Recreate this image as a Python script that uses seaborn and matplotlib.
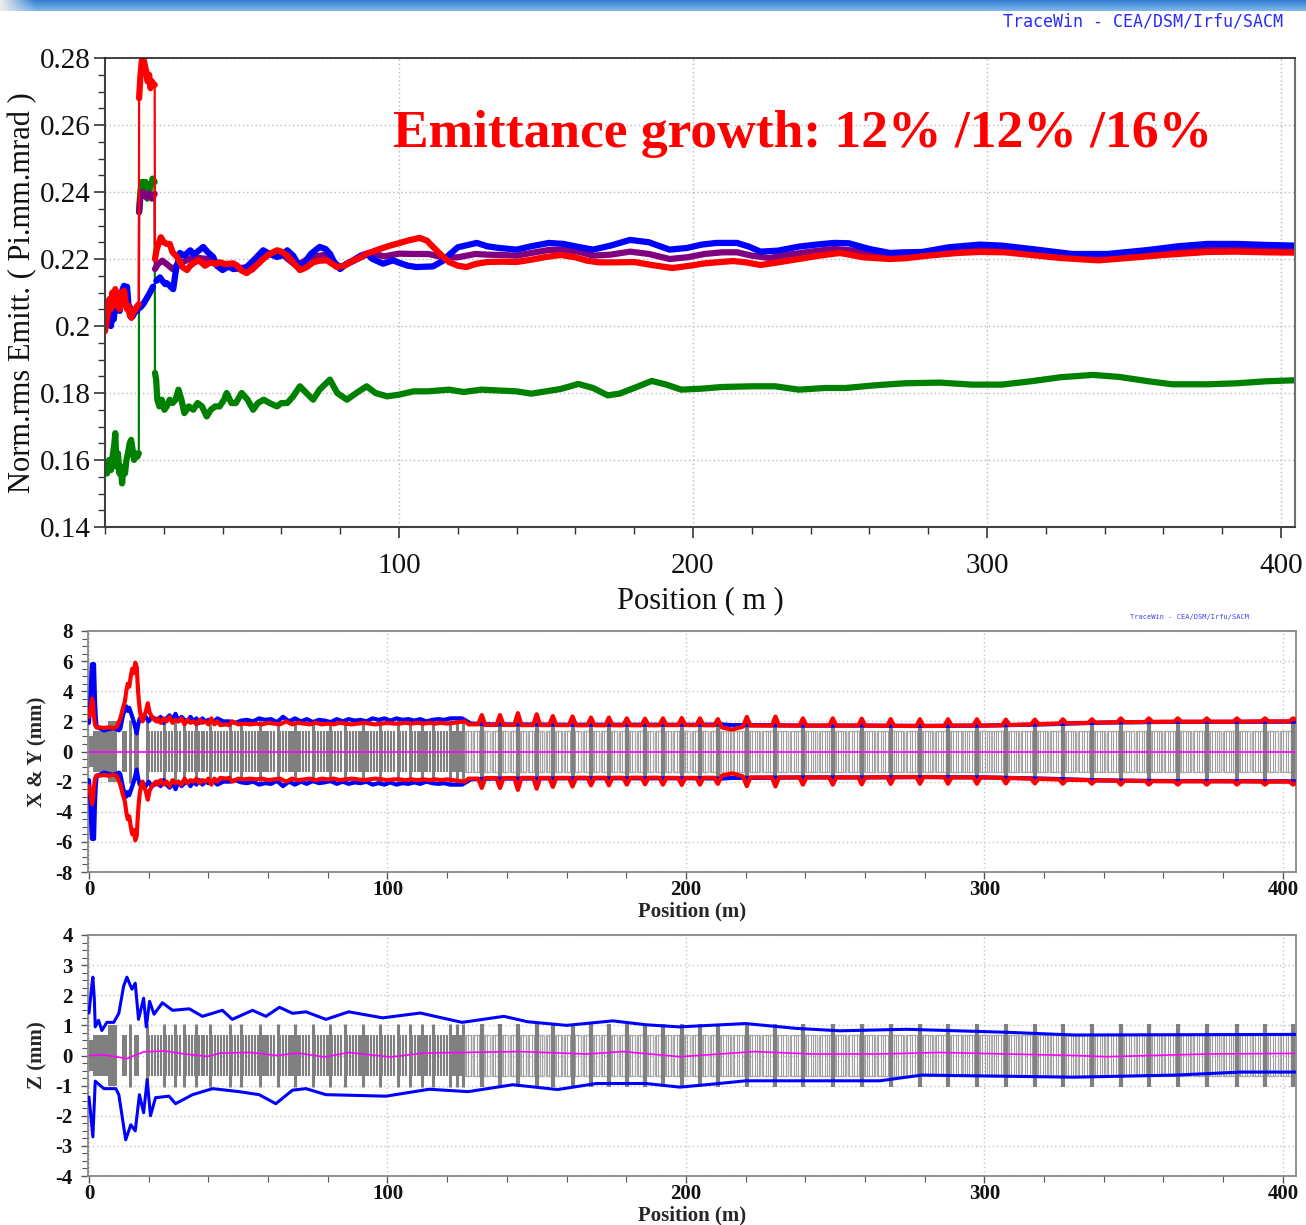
import numpy as np
import seaborn as sns
import matplotlib
matplotlib.use("Agg")
import matplotlib.pyplot as plt
from matplotlib.patches import Rectangle
from matplotlib.ticker import MultipleLocator, FixedLocator, FuncFormatter

# ---------------- data: emittance (top panel) ----------------
emit_green = [
    (0, 0.159), (0.7, 0.156), (1.4, 0.160), (2.0, 0.157), (2.6, 0.161), (3.2, 0.165), (3.5, 0.168),
    (3.9, 0.158), (4.4, 0.162), (4.9, 0.156), (5.4, 0.158), (5.8, 0.153), (6.3, 0.158), (6.8, 0.156),
    (7.3, 0.160), (7.8, 0.162), (8.4, 0.165), (8.9, 0.166), (9.4, 0.163), (9.9, 0.160), (10.4, 0.162),
    (11.0, 0.161), (11.5, 0.162),
    (11.6, 0.234), (12.0, 0.240), (12.6, 0.243), (13.2, 0.241), (13.8, 0.243), (14.4, 0.238),
    (15.0, 0.240), (15.6, 0.242), (16.2, 0.244), (16.9, 0.243),
    (17.0, 0.186), (17.4, 0.184), (17.8, 0.178), (18.5, 0.176), (19.3, 0.178), (20.2, 0.175),
    (21.0, 0.176), (22.0, 0.178), (23.0, 0.177), (24.0, 0.178), (25.0, 0.181), (26.0, 0.178),
    (27.0, 0.174), (28.5, 0.176), (30.0, 0.175), (31.5, 0.177), (33.0, 0.176), (34.6, 0.173),
    (36.0, 0.175), (37.5, 0.176), (39.0, 0.176), (40.5, 0.178), (41.4, 0.180), (43.0, 0.177),
    (44.5, 0.177), (46.5, 0.180), (48.5, 0.178), (50.4, 0.175), (52.0, 0.177), (54.0, 0.178),
    (56.0, 0.177), (58.5, 0.176), (60.0, 0.177), (62.0, 0.177), (64.0, 0.179), (66.3, 0.182),
    (68.5, 0.180), (70.8, 0.178), (73.0, 0.181), (76.5, 0.184), (79.0, 0.180), (82.3, 0.178),
    (85.5, 0.180), (89.0, 0.182), (92.0, 0.180), (96.0, 0.179), (100, 0.1795), (105, 0.1805),
    (110, 0.1805), (117, 0.181), (122, 0.1803), (128, 0.181), (135, 0.1807), (140, 0.1805),
    (145, 0.1798), (150, 0.1805), (155, 0.1812), (161, 0.1827), (166, 0.1815), (171, 0.1793),
    (175, 0.1798), (180, 0.1815), (186, 0.1836), (191, 0.1825), (196, 0.181), (203, 0.1813),
    (210, 0.1818), (220, 0.182), (228, 0.182), (236, 0.181), (245, 0.1815), (252, 0.1815),
    (262, 0.1823), (272, 0.1829), (284, 0.1831), (295, 0.1825), (305, 0.1825), (315, 0.1835),
    (325, 0.1847), (336, 0.1854), (345, 0.1848), (355, 0.1835), (363, 0.1826), (375, 0.1826),
    (385, 0.1829), (395, 0.1835), (404.8, 0.1838),
]

emit_red = [
    (0, 0.1985), (0.5, 0.201), (1, 0.204), (1.5, 0.208), (2, 0.205), (2.5, 0.210), (3, 0.206),
    (3.5, 0.211), (4, 0.207), (4.5, 0.209), (5, 0.205), (5.5, 0.210), (6, 0.208), (6.5, 0.2105),
    (7, 0.207), (7.5, 0.205), (8, 0.206), (8.5, 0.203), (9, 0.2025), (9.5, 0.204), (10, 0.2045),
    (10.5, 0.205), (11, 0.206), (11.5, 0.2065),
    (11.6, 0.268), (12, 0.274), (12.5, 0.279), (13, 0.280), (13.5, 0.278), (14, 0.276),
    (14.5, 0.273), (15, 0.275), (15.5, 0.271), (16, 0.273), (16.5, 0.272), (16.9, 0.272),
    (17, 0.220), (17.5, 0.2225), (18, 0.224), (19, 0.2265), (20, 0.225), (21, 0.2245),
    (22, 0.2245), (23, 0.222), (24.5, 0.2206), (25.5, 0.219), (26.5, 0.2175), (27.9, 0.2167),
    (29, 0.218), (30.5, 0.219), (32, 0.2196), (34, 0.218), (36, 0.219), (37.5, 0.2185),
    (39, 0.219), (41, 0.2185), (43.6, 0.2187), (45, 0.218), (46.5, 0.2165), (48.2, 0.2158),
    (50, 0.217), (52, 0.2185), (53.8, 0.220), (56, 0.2215), (58.5, 0.2226), (60, 0.2222),
    (62, 0.221), (64, 0.219), (66.3, 0.2167), (68.5, 0.2175), (70.8, 0.219), (73, 0.2195),
    (75.5, 0.2196), (78.9, 0.2176), (81.5, 0.218), (84.4, 0.2196), (87, 0.2205), (89, 0.2216),
    (91, 0.2222), (93.5, 0.223), (97, 0.224), (100.3, 0.2248), (103, 0.2255), (107, 0.2263),
    (109.5, 0.2255), (111.6, 0.2236), (114, 0.2215), (117, 0.2191), (120, 0.218), (123, 0.2176),
    (126, 0.2185), (130, 0.2191), (135, 0.2192), (140, 0.2191), (145, 0.2198), (150, 0.2206),
    (155, 0.2212), (160, 0.2205), (164, 0.2195), (168, 0.219), (174, 0.219), (180, 0.2191),
    (186, 0.2182), (193, 0.2173), (199, 0.218), (204, 0.2187), (208, 0.219), (213.6, 0.2194),
    (218, 0.219), (223, 0.2182), (229, 0.219), (236, 0.2200), (243, 0.221), (250, 0.2218),
    (258, 0.2205), (267, 0.2200), (272, 0.2202), (280, 0.221), (290, 0.2218), (297.6, 0.2221),
    (306, 0.222), (315, 0.2212), (325, 0.2203), (338, 0.2196), (348, 0.2203), (360, 0.2212),
    (375, 0.2221), (385, 0.2222), (395, 0.222), (404.8, 0.2219),
]

emit_blue = [
    (0, 0.201), (0.5, 0.2025), (1, 0.206), (1.5, 0.204), (2, 0.200), (2.5, 0.204), (3, 0.202),
    (3.5, 0.207), (4, 0.210), (4.5, 0.206), (5, 0.2045), (5.5, 0.207), (6, 0.211), (6.5, 0.212),
    (7, 0.208), (7.5, 0.2117), (8, 0.206), (8.5, 0.2035), (9, 0.2025), (9.5, 0.203), (10, 0.204),
    (11, 0.2046), (12, 0.2055), (13, 0.2065), (14, 0.208), (15, 0.2095), (16.3, 0.2117),
    (17.5, 0.2135), (18.7, 0.2145), (19.5, 0.2135), (20.5, 0.2125), (21, 0.2128), (22, 0.212),
    (23.2, 0.211), (24, 0.216), (25.5, 0.2218), (27, 0.221), (29, 0.2226), (30, 0.2215),
    (31.2, 0.222), (33.4, 0.2236), (35, 0.222), (36.8, 0.2206), (38, 0.218), (40, 0.2167),
    (42, 0.2178), (43.6, 0.217), (46, 0.2172), (48.2, 0.2176), (51, 0.220), (53.8, 0.2226),
    (56, 0.2215), (58.5, 0.2206), (60, 0.221), (62, 0.2226), (64, 0.221), (66.3, 0.2176),
    (68, 0.219), (70, 0.2215), (73, 0.2236), (75, 0.223), (76.5, 0.2216), (78, 0.219),
    (80, 0.217), (82, 0.2185), (84.4, 0.2196), (87, 0.221), (89, 0.2216), (91, 0.220),
    (94.6, 0.2186), (98, 0.2196), (100.3, 0.2188), (103, 0.218), (106, 0.2176), (111.6, 0.2178),
    (115, 0.2195), (117, 0.2212), (120, 0.2235), (126.5, 0.2248), (130, 0.2238), (134, 0.2233),
    (140, 0.2228), (145, 0.2238), (151, 0.2248), (156, 0.2245), (161, 0.2236), (166, 0.2228),
    (172, 0.224), (178.6, 0.2257), (185, 0.225), (192, 0.2228), (198, 0.2233), (203, 0.2243),
    (208, 0.2248), (215, 0.2248), (219, 0.2237), (223, 0.2222), (229, 0.2225), (236, 0.2237),
    (242, 0.2243), (248, 0.2248), (253, 0.2247), (260, 0.223), (267, 0.2218), (272, 0.222),
    (278, 0.2221), (287, 0.2235), (297.6, 0.2243), (305, 0.224), (315, 0.223), (329, 0.2215),
    (341, 0.2215), (355, 0.2227), (365, 0.2238), (375, 0.2245), (385, 0.2245), (395, 0.2242),
    (404.8, 0.2240),
]

emit_purple = [
    (0, 0.200), (2, 0.203), (4, 0.2085), (6, 0.2095), (8, 0.206), (10, 0.2043), (11.5, 0.2055),
    (11.6, 0.234), (12, 0.238), (12.5, 0.2395), (13, 0.240), (14, 0.2385), (15, 0.2395),
    (16, 0.238), (16.9, 0.2395),
    (17, 0.217), (18, 0.2185), (19.5, 0.2195), (21, 0.2185), (23, 0.217), (25, 0.2185),
    (30, 0.2205), (35, 0.2200), (40, 0.2178), (45, 0.2175), (50, 0.2168), (55, 0.2215),
    (60, 0.2216), (65, 0.218), (70, 0.2205), (75, 0.2213), (80, 0.2175), (85, 0.2196),
    (90, 0.2218), (95, 0.2208), (100, 0.2216), (105, 0.2215), (110, 0.2215), (115, 0.2205),
    (120, 0.2205), (126, 0.2215), (130, 0.2213), (135, 0.2212), (140, 0.221), (145, 0.2218),
    (151, 0.2227), (156, 0.2228), (161, 0.2222), (166, 0.221), (172, 0.2213), (178.6, 0.2222),
    (185, 0.2215), (192, 0.2200), (198, 0.2205), (204, 0.2215), (210, 0.222), (215, 0.222),
    (220, 0.221), (226, 0.2203), (232, 0.2212), (240, 0.2222), (248, 0.223), (255, 0.2225),
    (262, 0.2214), (270, 0.221), (280, 0.2216), (290, 0.2226), (300, 0.2231), (310, 0.2224),
    (320, 0.2215), (332, 0.2206), (342, 0.2207), (355, 0.2218), (365, 0.2226), (375, 0.2233),
    (385, 0.2233), (395, 0.2231), (404.8, 0.223),
]
emit_jumps = [11.55, 16.95]
emit_text = "Emittance growth: 12% /12% /16%"

# ---------------- data: transverse envelopes (middle panel, upper half) ----------------
env_y_red = [
    (0, 2.3), (0.5, 2.8), (1.0, 3.5), (1.3, 3.3), (1.6, 2.5), (2.0, 1.8), (2.5, 1.6), (3, 1.6),
    (4, 1.6), (5, 1.55), (6, 1.6), (7, 1.6), (8, 1.55), (9, 1.6), (9.5, 1.7), (10.5, 2.2),
    (11.4, 2.9), (12, 3.3), (12.5, 4.0), (13, 4.5), (13.5, 4.3), (14, 5.0), (14.5, 5.5),
    (15, 5.2), (15.5, 5.9), (16, 5.6), (16.3, 4.5), (16.6, 3.6), (17, 2.8), (17.5, 2.2),
    (18, 2.0), (18.5, 2.4), (19, 2.6), (19.7, 3.2), (20.3, 2.6), (21.4, 2.2), (22.5, 2.0),
    (23, 2.2), (24, 1.9), (25, 2.2), (26, 2.0), (27, 2.3), (28, 1.9), (29, 2.1), (30, 2.0),
    (31, 2.2), (32, 1.8), (33, 2.1), (34, 1.9), (35, 2.0), (36, 1.8), (37, 2.1), (38, 1.9),
    (39, 2.0), (40, 1.8), (41, 2.2), (42, 1.8), (43, 2.0), (44, 1.75), (46, 1.8), (47, 1.75),
    (48, 2.0), (50, 1.8), (52, 1.85), (54, 1.8), (56, 1.85), (58, 1.8), (60, 1.9), (62, 1.85),
    (64, 1.8), (66, 2.0), (68, 1.8), (70, 1.9), (72, 1.85), (74, 1.8), (76, 1.9), (78, 1.8),
    (80, 1.85), (82, 1.8), (84, 1.9), (86, 1.85), (88, 1.8), (90, 1.85), (92, 1.9), (94, 1.85),
    (96, 1.8), (98, 1.85), (100, 1.9), (102, 1.85), (104, 1.85), (106, 1.9), (108, 1.85),
    (110, 1.9), (112, 1.85), (114, 1.9), (116, 1.85), (118, 1.9), (120, 1.85), (122, 1.9),
    (124, 1.95),
    (126.0, 2.0), (127.2, 1.8), (130.4, 1.8), (131.6, 2.42), (132.8, 1.76), (136.5, 1.76),
    (137.7, 2.42), (138.9, 1.76), (142.5, 1.76), (143.7, 2.55), (144.9, 1.75), (148.8, 1.75),
    (150.0, 2.47), (151.2, 1.75), (154.2, 1.75), (155.4, 2.35), (156.6, 1.75), (160.8, 1.75),
    (162.0, 2.33), (163.2, 1.74), (167.0, 1.74), (168.2, 2.25), (169.4, 1.74), (173.0, 1.74),
    (174.2, 2.25), (175.4, 1.74), (179.0, 1.74), (180.2, 2.2), (181.4, 1.74), (185.1, 1.74),
    (186.3, 2.18), (187.5, 1.74), (191.1, 1.74), (192.3, 2.2), (193.5, 1.75), (197.4, 1.75),
    (198.6, 2.22), (199.8, 1.75), (203.5, 1.75), (204.7, 2.2), (205.9, 1.74), (209.5, 1.74),
    (210.7, 2.15), (212.0, 1.6), (215.5, 1.45), (219.1, 1.65), (220.4, 2.3), (221.6, 1.72),
    (228.8, 1.72), (230.0, 2.32), (231.2, 1.72), (238.0, 1.72), (239.2, 2.2), (240.4, 1.72),
    (248.0, 1.72), (249.2, 2.2), (250.4, 1.72), (257.7, 1.72), (258.9, 2.18), (260.1, 1.72),
    (267.4, 1.70), (268.6, 2.15), (269.8, 1.70), (277.2, 1.69), (278.4, 2.14), (279.6, 1.69),
    (286.6, 1.70), (287.8, 2.14), (289.0, 1.72), (296.3, 1.72), (297.5, 2.14), (298.7, 1.72),
    (306.0, 1.74), (307.2, 2.12), (308.4, 1.76), (315.7, 1.80), (316.9, 2.12), (318.1, 1.82),
    (325.1, 1.86), (326.3, 2.14), (327.5, 1.88), (334.8, 1.90), (336.0, 2.14), (337.2, 1.92),
    (344.5, 1.94), (345.7, 2.2), (346.9, 1.95), (353.9, 1.96), (355.1, 2.2), (356.3, 1.97),
    (363.6, 1.98), (364.8, 2.2), (366.0, 1.98), (373.3, 1.98), (374.5, 2.2), (375.7, 1.98),
    (383.4, 1.98), (384.6, 2.2), (385.8, 1.98), (392.8, 2.0), (394.0, 2.2), (395.2, 2.0),
    (402.2, 2.0), (403.4, 2.2), (404.4, 2.1),
]

env_x_blue = [
    (0, 1.9), (0.4, 3.0), (0.8, 5.2), (1.0, 5.8), (1.2, 4.0), (1.4, 5.6), (1.7, 5.8), (2.0, 3.5),
    (2.3, 2.2), (2.6, 1.6), (3, 1.6), (4, 1.5), (5, 1.4), (6, 1.45), (7, 1.5), (8, 1.55), (9, 1.5),
    (10, 1.4), (10.5, 1.5), (11, 2.0), (11.5, 2.5), (12, 2.7), (12.5, 3.0), (13, 2.7), (13.5, 2.9),
    (14, 2.6), (15, 2.0), (15.5, 1.6), (16, 1.2), (16.5, 1.8), (17, 2.2), (18, 2.1), (19, 2.3),
    (20, 2.0), (21, 2.3), (22, 2.2), (23, 2.0), (24, 2.3), (25, 1.9), (26, 2.2), (27, 2.4),
    (28, 2.1), (29, 2.5), (30, 2.0), (31, 2.3), (32, 2.1), (33, 2.0), (34, 2.3), (35, 2.0),
    (36, 2.2), (37, 1.9), (38, 2.2), (39, 2.0), (40, 2.1), (42, 2.0), (43, 2.2), (45, 2.0),
    (47, 2.0), (49, 1.9), (51, 2.05), (53, 2.1), (55, 2.0), (57, 2.2), (59, 2.1), (61, 2.15),
    (63, 1.95), (65, 2.3), (67, 2.0), (69, 2.2), (71, 2.0), (73, 2.15), (75, 1.95), (77, 2.1),
    (79, 2.05), (81, 1.95), (83, 2.15), (85, 2.0), (87, 2.15), (89, 2.05), (91, 2.1), (93, 2.0),
    (95, 2.2), (97, 2.1), (99, 2.2), (101, 2.05), (103, 2.2), (105, 2.1), (107, 2.15), (109, 2.05),
    (111, 2.15), (113, 2.0), (115, 2.1), (117, 2.15), (119, 2.1), (121, 2.2), (123, 2.2),
    (125, 2.2), (128, 1.85), (135, 1.8), (145, 1.8), (160, 1.78), (175, 1.78), (190, 1.78),
    (205, 1.78), (212, 1.8), (215.5, 1.75), (222, 1.75), (240, 1.72), (260, 1.72), (280, 1.7),
    (300, 1.72), (320, 1.8), (340, 1.92), (360, 1.96), (380, 1.97), (404.4, 1.98),
]

# ---------------- data: longitudinal envelope (bottom panel) ----------------
env_z_upper = [
    (0, 1.41), (0.9, 2.28), (1.3, 2.6), (1.8, 1.86), (2.1, 0.95), (3.2, 1.17), (4.3, 0.83),
    (6.0, 1.1), (8.3, 1.1), (10, 1.4), (11.6, 2.3), (12.7, 2.6), (14.4, 2.2), (15.5, 2.4),
    (16.6, 1.2), (18.3, 1.9), (19.2, 0.95), (20.3, 1.8), (21.8, 1.37), (24.6, 1.75), (28, 1.5),
    (33.6, 1.55), (38, 1.3), (44.7, 1.5), (48, 1.2), (54.8, 1.5), (59.3, 1.3), (63.8, 1.6),
    (68.2, 1.4), (72.7, 1.45), (79.4, 1.2), (87, 1.45), (98.4, 1.25), (111, 1.41), (125, 1.1),
    (139, 1.3), (147, 1.12), (160, 1.0), (175.5, 1.15), (186.6, 1.02), (197.8, 0.95),
    (220, 1.06), (237, 0.9), (251.6, 0.82), (274, 0.87), (307.7, 0.77), (330, 0.68),
    (402.5, 0.7), (404.4, 0.7),
]
env_z_lower = [
    (0, -1.38), (1.3, -2.7), (2.1, -0.85), (5, -1.1), (9, -1.1), (10, -1.3), (12.3, -2.8),
    (14, -2.3), (15.5, -2.5), (16.9, -1.3), (18.3, -1.9), (19.5, -0.8), (20.6, -2.0),
    (22.3, -1.4), (26.8, -1.35), (29, -1.6), (34.7, -1.3), (41.4, -1.1), (50.3, -1.2),
    (57, -1.3), (62.6, -1.6), (68.2, -1.15), (72.7, -1.1), (79.4, -1.3), (99.5, -1.35),
    (114, -1.12), (127, -1.2), (142, -0.97), (157, -1.13), (170, -0.93), (186.6, -0.93),
    (198, -1.05), (209, -0.95), (220, -0.84), (265, -0.84), (279, -0.65), (330, -0.72),
    (364, -0.65), (386, -0.55), (404.4, -0.55),
]
centroid_z = [
    (0, 0.0), (5, 0.02), (12.8, -0.1), (18.3, 0.12), (25.4, 0.15), (31.9, 0.05), (39.7, -0.03),
    (44, 0.08), (54, 0.1), (63, 0.0), (70, 0.08), (79, -0.05), (87, 0.1), (101, -0.05),
    (112, 0.08), (144, 0.13), (167, 0.05), (179, 0.13), (198, -0.04), (223, 0.13), (242, 0.05),
    (265, 0.05), (285, 0.1), (330, 0.0), (341, -0.04), (375, 0.05), (404.4, 0.07),
]
centroid_xy = [(0, 0.0), (404.4, 0.0)]

# ---------------- data: lattice elements (grey schematic) ----------------
front_blocks = [(0.0, 1.5, 1.0), (1.5, 6.5, 1.35), (6.5, 9.3, 2.0), (10.9, 12.6, 1.35), (15.1, 16.8, 1.35)]
solid_blocks = [(57.3, 60.1), (67.4, 70.2), (79.7, 81.9), (90.3, 93.1), (109.8, 113.1), (121.5, 124.9)]
tall_bars = [13.7, 19.5, 25.1, 28.8, 31.8, 36.0, 40.5, 47.2, 51.0, 57.3, 63.4, 69.0, 75.0, 80.7,
             85.8, 91.8, 97.4, 103.4, 107.5, 111.5, 115.3, 121.0, 123.3, 125.3]
quad_pos = [131.6, 137.7, 143.7, 150.0, 155.4, 162.0, 168.2, 174.2, 180.2, 186.3, 192.3, 198.6,
            204.7, 210.7, 220.4, 230.0, 239.2, 249.2, 258.9, 268.6, 278.4, 287.8, 297.5, 307.2,
            316.9, 326.3, 336.0, 345.7, 355.1, 364.8, 374.5, 384.6, 394.0, 403.4]
cell_pitch_low = 1.0
cell_pitch_high = 0.8
half_tall, half_short = 2.1, 1.35

# ---------------- style ----------------
sns.set_theme(style="white")
plt.rcParams["font.family"] = ["Liberation Serif", "DejaVu Serif"]
plt.rcParams["axes.unicode_minus"] = False

W, H = 1306, 1225
fig = plt.figure(figsize=(W / 100, H / 100), dpi=100)
fig.patch.set_facecolor("white")


def unzip(pairs):
    a = np.array(pairs, dtype=float)
    return a[:, 0], a[:, 1]


def fx(px):
    return px / W


def fy(py):
    return 1 - py / H


# banner
bax = fig.add_axes([0, fy(11), 1, 11 / H])
cols = np.linspace(0, 1, W)
rows = np.linspace(0, 1, 11)
top_c = np.array([0.20, 0.50, 0.82])
bot_c = np.array([0.50, 0.72, 0.92])
img = top_c[None, None, :] * (1 - rows[:, None, None]) + bot_c[None, None, :] * rows[:, None, None]
img = np.repeat(img, W, axis=1)
fade = np.clip(cols / (35 / W), 0, 1)[None, :, None]
img = img * fade + np.array([0.93, 0.93, 0.93])[None, None, :] * (1 - fade)
bax.imshow(img, aspect="auto")
bax.axis("off")
fig.text(fx(1003), fy(21), "TraceWin - CEA/DSM/Irfu/SACM", color="#2b2bff",
         family="DejaVu Sans Mono", fontsize=12, va="center", ha="left")
fig.text(fx(1130), fy(617), "TraceWin - CEA/DSM/Irfu/SACM", color="#4040ff",
         family="DejaVu Sans Mono", fontsize=5, va="center", ha="left")

# ---------------- top panel ----------------
ax1 = fig.add_axes([fx(105), fy(527), 1190 / W, 469 / H])


def draw_emit(ax, pairs, color, thick):
    x, y = unzip(pairs)
    sns.lineplot(x=x, y=y, ax=ax, color=color, lw=1.6, estimator=None, sort=False)
    edges = [-1] + emit_jumps + [1000]
    for lo, hi in zip(edges[:-1], edges[1:]):
        m = (x > lo) & (x < hi)
        sns.lineplot(x=x[m], y=y[m], ax=ax, color=color, lw=thick, estimator=None, sort=False,
                     solid_capstyle="round", solid_joinstyle="round")


draw_emit(ax1, emit_green, "#008000", 4.5)
draw_emit(ax1, emit_purple, "#800080", 4.5)
draw_emit(ax1, emit_blue, "#0000ff", 4.5)
draw_emit(ax1, emit_red, "#ff0000", 4.5)

ax1.set_xlim(0, 404.8)
ax1.set_ylim(0.14, 0.28)
ax1.xaxis.set_major_locator(FixedLocator([100, 200, 300, 400]))
ax1.xaxis.set_minor_locator(MultipleLocator(20))
ax1.yaxis.set_major_locator(MultipleLocator(0.02))
ax1.yaxis.set_minor_locator(MultipleLocator(0.005))
ax1.yaxis.set_major_formatter(FuncFormatter(lambda v, p: "%g" % round(v, 3)))
ax1.xaxis.set_major_formatter(FuncFormatter(lambda v, p: "%d" % v))
ax1.tick_params(axis="both", which="both", direction="out", bottom=True, left=True,
                colors="#333333", labelcolor="#111111", labelsize=21)
ax1.tick_params(which="major", length=8, width=1.2)
ax1.tick_params(which="minor", length=5, width=1.0)
ax1.tick_params(axis="x", which="major", pad=11)
ax1.tick_params(axis="y", which="major", pad=2)
ax1.grid(True, which="major", ls=(0, (1, 2)), color="#b8b8b8", lw=1.0)
for s in ["left", "bottom"]:
    ax1.spines[s].set_color("#404040")
    ax1.spines[s].set_linewidth(1.5)
ax1.spines["top"].set_color("#222222")
ax1.spines["right"].set_color("#707070")
ax1.spines["top"].set_linewidth(1.2)
ax1.spines["right"].set_linewidth(1.5)
ax1.set_ylabel("Norm.rms Emitt. ( Pi.mm.mrad )", fontsize=22, color="#111111", labelpad=2)
ax1.set_xlabel("Position ( m )", fontsize=22, color="#111111", labelpad=5)
ax1.text((393 - 105) / 1190, (527 - 134) / 469, emit_text, transform=ax1.transAxes,
         color="#ff0000", fontsize=38.5, fontweight="bold", ha="left", va="center")


# ---------------- lattice drawing ----------------
def draw_lattice(ax, scale):
    dark, light = "#808080", "#b0b0b0"
    hs, ht = half_short * scale, half_tall * scale
    for x0, x1, h in front_blocks:
        ax.add_patch(Rectangle((x0, -h * scale), x1 - x0, 2 * h * scale, fc=dark, ec="none", zorder=1))
    for x0, x1 in solid_blocks:
        ax.add_patch(Rectangle((x0, -hs), x1 - x0, 2 * hs, fc=dark, ec="none", zorder=1))
    for a, b in zip(tall_bars[1:-1], tall_bars[2:]):
        xs = np.arange(a + 0.7, b - 0.4, cell_pitch_low)
        ax.vlines(xs, -hs, hs, colors=dark, lw=1.5, zorder=1)
    ax.vlines(tall_bars, -ht, ht, colors=dark, lw=2.2, zorder=1)
    bounds = [tall_bars[-1]] + quad_pos
    for a, b in zip(bounds[:-1], bounds[1:]):
        mid = 0.5 * (a + b)
        for x0, x1 in [(a + 0.6, mid - 0.3), (mid + 0.3, b - 0.6)]:
            ax.add_patch(Rectangle((x0, -hs), x1 - x0, 2 * hs, fc="none", ec=light, lw=1.0, zorder=1))
            xs = np.arange(x0 + 0.4, x1 - 0.2, cell_pitch_high)
            ax.vlines(xs, -hs, hs, colors="#a0a0a0", lw=0.8, zorder=1)
    ax.vlines(quad_pos, -ht, ht, colors=dark, lw=3.0, zorder=1)


def style_env_axes(ax, ymax, ymajor, yminor, ylabel):
    ax.set_xlim(-0.33, 404.4)
    ax.set_ylim(-ymax, ymax)
    yt = np.arange(-ymax, ymax + ymajor / 2, ymajor)
    ax.set_yticks(yt, labels=["%d" % v for v in yt], fontweight="bold", fontsize=15)
    ax.set_xticks([0, 100, 200, 300, 400], labels=["0", "100", "200", "300", "400"],
                  fontweight="bold", fontsize=15)
    ax.xaxis.set_minor_locator(MultipleLocator(20))
    ax.yaxis.set_minor_locator(MultipleLocator(yminor))
    ax.tick_params(axis="both", which="both", direction="out", bottom=True, left=True,
                   colors="#555555", labelcolor="#111111")
    ax.tick_params(which="major", length=5, width=1.0)
    ax.tick_params(which="minor", length=4, width=0.8)
    ax.tick_params(axis="y", which="major", pad=6)
    ax.tick_params(axis="x", which="major", pad=1)
    ax.grid(True, which="major", ls=(0, (1, 2)), color="#c4c4c4", lw=1.0)
    for s in ax.spines.values():
        s.set_color("#888888")
        s.set_linewidth(1.3)
    ax.set_xlabel("Position (m)", fontsize=15, fontweight="bold", labelpad=1)
    ax.set_ylabel(ylabel, fontsize=15, fontweight="bold", labelpad=6)


# ---------------- middle panel: X & Y ----------------
ax2 = fig.add_axes([fx(88), fy(872), 1208 / W, 241 / H])
draw_lattice(ax2, 1.0)
cx, cy = unzip(centroid_xy)
sns.lineplot(x=cx, y=cy, ax=ax2, color="#ff00ff", lw=1.2, estimator=None, sort=False, zorder=2)
bx, byv = unzip(env_x_blue)
rx, ryv = unzip(env_y_red)
for sgn in (1, -1):
    sns.lineplot(x=bx, y=sgn * byv, ax=ax2, color="#0000ff", lw=3.0, estimator=None, sort=False, zorder=3)
for sgn in (1, -1):
    sns.lineplot(x=rx, y=sgn * ryv, ax=ax2, color="#ff0000", lw=3.0, estimator=None, sort=False, zorder=4)
style_env_axes(ax2, 8, 2, 0.5, "X & Y (mm)")

# ---------------- bottom panel: Z ----------------
ax3 = fig.add_axes([fx(88), fy(1176), 1208 / W, 241 / H])
draw_lattice(ax3, 0.5)
zx, zc = unzip(centroid_z)
sns.lineplot(x=zx, y=zc, ax=ax3, color="#ff00ff", lw=1.2, estimator=None, sort=False, zorder=2)
ux, uv = unzip(env_z_upper)
lx, lv = unzip(env_z_lower)
sns.lineplot(x=ux, y=uv, ax=ax3, color="#0000ff", lw=2.2, estimator=None, sort=False, zorder=3)
sns.lineplot(x=lx, y=lv, ax=ax3, color="#0000ff", lw=2.2, estimator=None, sort=False, zorder=3)
style_env_axes(ax3, 4, 1, 0.25, "Z (mm)")

fig.savefig("out.png", dpi=100, facecolor="white")
